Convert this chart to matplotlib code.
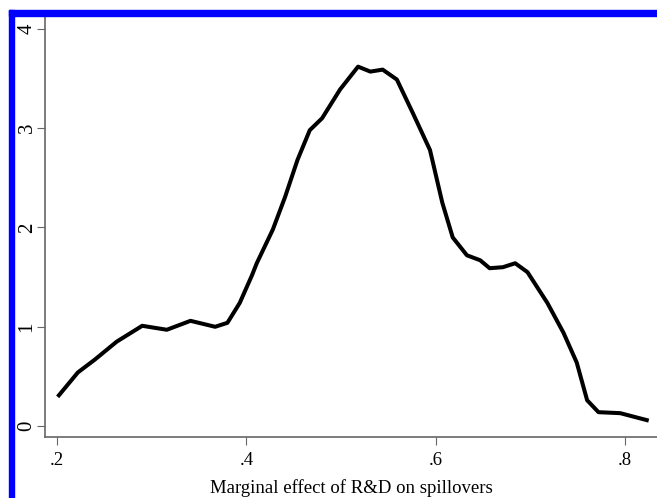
import matplotlib
matplotlib.use("Agg")
import matplotlib.pyplot as plt
from matplotlib.patches import Rectangle

# kernel density of marginal effect
effect = [0.202, 0.222, 0.240, 0.263, 0.290, 0.316, 0.341, 0.367, 0.380,
          0.393, 0.406, 0.411, 0.428, 0.441, 0.454, 0.467, 0.480, 0.499,
          0.518, 0.531, 0.544, 0.559, 0.576, 0.594, 0.607, 0.618, 0.633,
          0.647, 0.657, 0.671, 0.684, 0.697, 0.718, 0.735, 0.749, 0.760,
          0.772, 0.795, 0.823]
density = [0.31, 0.54, 0.67, 0.85, 1.01, 0.97, 1.06, 1.00, 1.04,
           1.24, 1.52, 1.64, 1.98, 2.31, 2.68, 2.98, 3.10, 3.39,
           3.62, 3.57, 3.59, 3.49, 3.15, 2.78, 2.25, 1.90, 1.72,
           1.67, 1.59, 1.60, 1.64, 1.55, 1.24, 0.94, 0.64, 0.26,
           0.14, 0.13, 0.06]

x_ticks = [0.2, 0.4, 0.6, 0.8]
x_tick_labels = [".2", ".4", ".6", ".8"]
y_ticks = [0, 1, 2, 3, 4]

plt.rcParams["font.family"] = ["Liberation Serif", "DejaVu Serif"]

W, H = 657, 498
fig = plt.figure(figsize=(W / 100, H / 100), dpi=100)
ax = fig.add_axes([45 / W, 1 - 437 / H, 1 - 45 / W, (437 - 16) / H])

ax.plot(effect, density, color="black", lw=2.9, solid_joinstyle="round")

ax.set_xlim(0.1873, 0.8338)
ax.set_ylim(-0.11, 4.13)
ax.set_xticks(x_ticks)
ax.set_xticklabels(x_tick_labels, fontsize=13.5)
ax.set_yticks(y_ticks)
ax.set_yticklabels([str(v) for v in y_ticks], rotation=90, va="center",
                   fontsize=15)

for side in ["top", "right"]:
    ax.spines[side].set_visible(False)
for side in ["left", "bottom"]:
    ax.spines[side].set_color("#666666")
    ax.spines[side].set_linewidth(1.2)

ax.tick_params(axis="x", length=6, color="#666666", pad=5)
ax.tick_params(axis="y", length=6, color="#666666", pad=0)
ax.set_xlabel("Marginal effect of R&D on spillovers", fontsize=13.5, labelpad=7)

# blue frame at top and left of the crop
fig.patches.append(Rectangle((9 / W, 1 - 16 / H), 1, 6 / H, transform=fig.transFigure,
                             color="#0000ff", zorder=5))
fig.patches.append(Rectangle((9 / W, 0), 5 / W, 1 - 10 / H, transform=fig.transFigure,
                             color="#0000ff", zorder=5))

fig.savefig("out.png", dpi=100)
